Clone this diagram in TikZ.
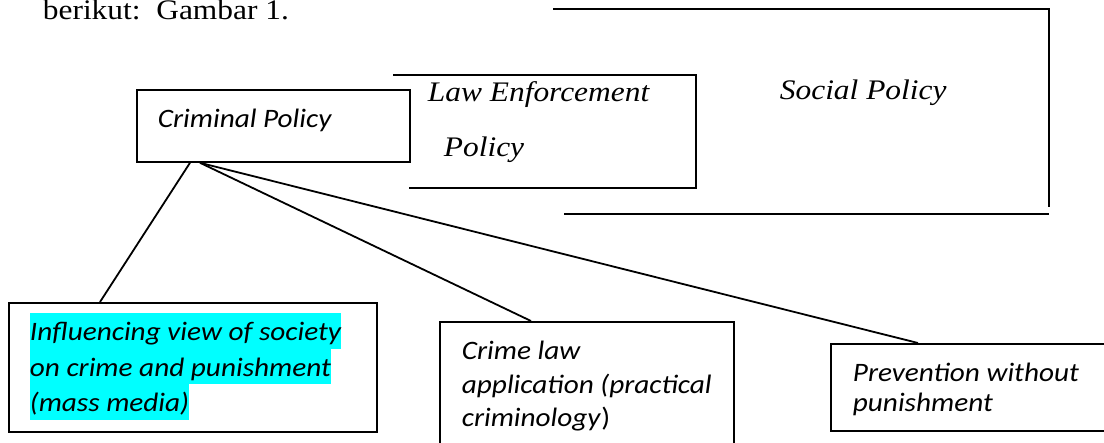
\documentclass[tikz,border=0pt]{standalone}
\usepackage{fontspec}
\setmainfont{Liberation Serif}[FakeStretch=1.11]
\newfontfamily\calibri{Carlito}[FakeStretch=1.1]
\definecolor{hlcyan}{RGB}{0,255,255}
\newcommand{\hlline}[1]{{\setlength{\fboxsep}{0pt}\colorbox{hlcyan}{\rule[-8pt]{0pt}{35.5pt}#1}}}

\begin{document}
\begin{tikzpicture}[x=1pt,y=-1pt,
                    line width=1.8pt,
                    bx/.style n args={2}{draw,rectangle,
                    minimum width=#1pt,
                    minimum height=#2pt,
                    inner sep=0pt,anchor=north west},
                    txt/.style={inner sep=0pt,anchor=base west,align=left,
                    font=\calibri\itshape\fontsize{26.6}{#1}\selectfont},
                    txt/.default={33.5},
                    tms/.style={inner sep=0pt,anchor=base west,
                    font=\fontsize{28.3}{34}\selectfont}]
    \useasboundingbox (0,0) rectangle (1104,443);
    \clip (0,0) rectangle (1104,443);

    \node[tms] (head) at (42,20) {berikut:\ \ Gambar 1.};

    % social policy and law enforcement frames
    \draw (553,9) -- (1049,9) -- (1049,207);
    \draw (564,214) -- (1049,214);
    \node[tms,font=\fontsize{28.3}{34}\selectfont\itshape] (soc) at (779,100) {Social Policy};
    \draw (393,75) -- (696,75) -- (696,188) -- (409,188);
    \node[tms,font=\fontsize{28.3}{34}\selectfont\itshape] (law1) at (427,102) {Law Enforcement};
    \node[tms,font=\fontsize{28.3}{34}\selectfont\itshape] (law2) at (443,157) {Policy};

    \node[bx={273}{72}] (crim) at (136,89) {};
    \node[txt] (crimtxt) at (157,128) {Criminal Policy};

    % base anchor of a multi-line node sits on its last line
    \node[bx={368}{129}] (infl) at (8,302) {};
    \node[txt={35.5}] (infltxt) at (29,412) {\hlline{Influencing view of society}\\
        \hlline{on crime and punishment}\\\hlline{(mass media)}};

    \node[bx={294}{140}] (claw) at (439,321) {};
    \node[txt] (clawtxt) at (461,427) {Crime law\\application (practical\\criminology\textup{)}};

    \node[bx={300}{87}] (prev) at (830,343) {};
    \node[txt={30}] (prevtxt) at (852,412) {Prevention without\\punishment};

    \draw ([xshift=54pt]crim.south west) -- ([xshift=92pt]infl.north west);
    \draw ([xshift=64pt]crim.south west) -- ([xshift=92pt]claw.north west);
    \draw ([xshift=64pt]crim.south west) -- ([xshift=88pt]prev.north west);
\end{tikzpicture}
\end{document}
